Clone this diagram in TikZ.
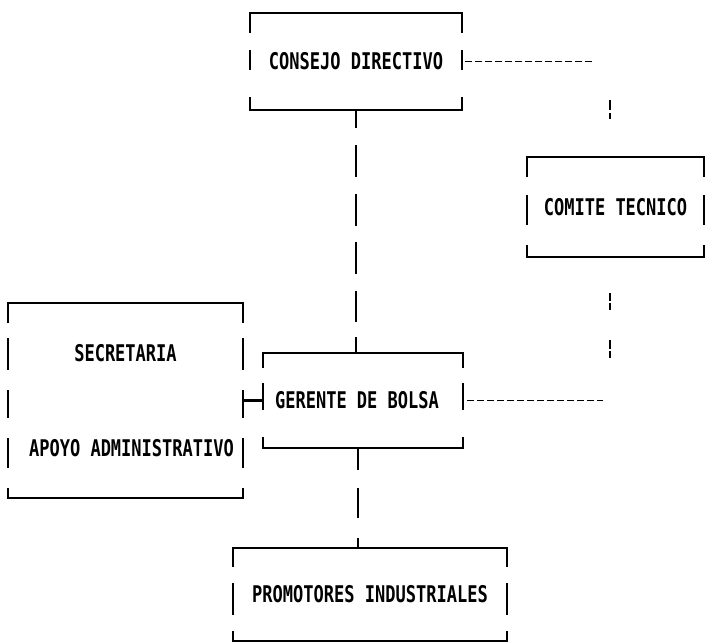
\documentclass[tikz,border=0pt]{standalone}
\usepackage{graphicx}
\usepackage{fontspec}
\newfontfamily\dmfont{DejaVu Sans Mono}
\newcommand\dm[1]{{\dmfont\bfseries\fontsize{23}{26}\selectfont\scalebox{0.74}[1]{#1}}}
\newcommand\dmframe[4]{%
  \draw[frame] ([yshift=-#2]#1.north west) -- (#1.north west) -- (#1.north east) -- ([yshift=-#2]#1.north east);
  \draw[frame] ([yshift=#3]#1.south west) -- (#1.south west) -- (#1.south east) -- ([yshift=#3]#1.south east);
  \foreach \a/\b in {#4} {
    \draw[frame] ([yshift=-\a]#1.north west) -- ([yshift=-\b]#1.north west);
    \draw[frame] ([yshift=-\a]#1.north east) -- ([yshift=-\b]#1.north east);
  }%
}
\tikzset{
  frame/.style={line width=2.6pt, line cap=butt, black},
  dmbox/.style={inner sep=0pt, outer sep=0pt, align=center},
  solidconn/.style={line width=2.6pt, black},
  dotline/.style={line width=1.8pt, black, dash pattern=on 7pt off 3pt},
}
\begin{document}
\begin{tikzpicture}[x=1pt,y=-1pt]
\useasboundingbox[fill=white] (0,0) rectangle (706,643);

\node[dmbox, minimum width=212pt, minimum height=97pt] (consejo) at (356,61.5) {\dm{CONSEJO DIRECTIVO}};
\node[dmbox, minimum width=177pt, minimum height=100pt] (comite) at (615.5,207) {\dm{COMITE TECNICO}};
\node[dmbox, minimum width=235pt, minimum height=195pt] (secretaria) at (125.5,400.5) {\dm{SECRETARIA}\\[77pt]\hspace*{12pt}\dm{APOYO ADMINISTRATIVO}};
\node[dmbox, minimum width=200pt, minimum height=95pt] (gerente) at (363,400.5) {\dm{GERENTE DE BOLSA}\hspace*{12pt}};
\node[dmbox, minimum width=274pt, minimum height=93pt] (promotores) at (370,594.5) {\dm{PROMOTORES INDUSTRIALES}};

\dmframe{consejo}{20pt}{13pt}{37pt/57pt}
\dmframe{comite}{20pt}{12pt}{38pt/68pt}
\dmframe{secretaria}{20pt}{10pt}{35pt/67pt,87pt/115pt,135pt/165pt}
\dmframe{gerente}{15pt}{11pt}{30pt/57pt}
\dmframe{promotores}{19pt}{10pt}{35pt/67pt}

% vertical connectors
\draw[solidconn, dash pattern=on 18pt off 17pt on 32pt off 17pt on 32pt off 16pt on 32pt off 17pt on 31pt off 15pt on 20pt]
  (consejo.south) -- (consejo.south |- gerente.north);
\draw[solidconn, dash pattern=on 22pt off 18pt on 30pt off 20pt on 14pt]
  ([xshift=-5pt]gerente.south) -- ([xshift=-5pt]gerente.south |- promotores.north);
\draw[solidconn] (secretaria.east) -- (gerente.west);

% dotted staff connectors
\coordinate (cj) at (610,61.5);
\coordinate (gj) at (610,400.5);
\draw[dotline, shorten <=3pt, shorten >=17pt] (consejo.east) -- (cj);
\draw[dotline, shorten <=4pt, shorten >=7pt] (gerente.east) -- (gj);
\draw[line width=2.4pt, dash pattern=on 0pt off 38.5pt on 10pt off 3pt on 6pt off 80pt] (cj) -- (cj |- comite.north);
\draw[line width=2.4pt, dash pattern=on 0pt off 36pt on 8pt off 2pt on 7pt off 30pt on 9pt off 2pt on 7pt off 80pt] (cj |- comite.south) -- (gj);
\end{tikzpicture}
\end{document}
